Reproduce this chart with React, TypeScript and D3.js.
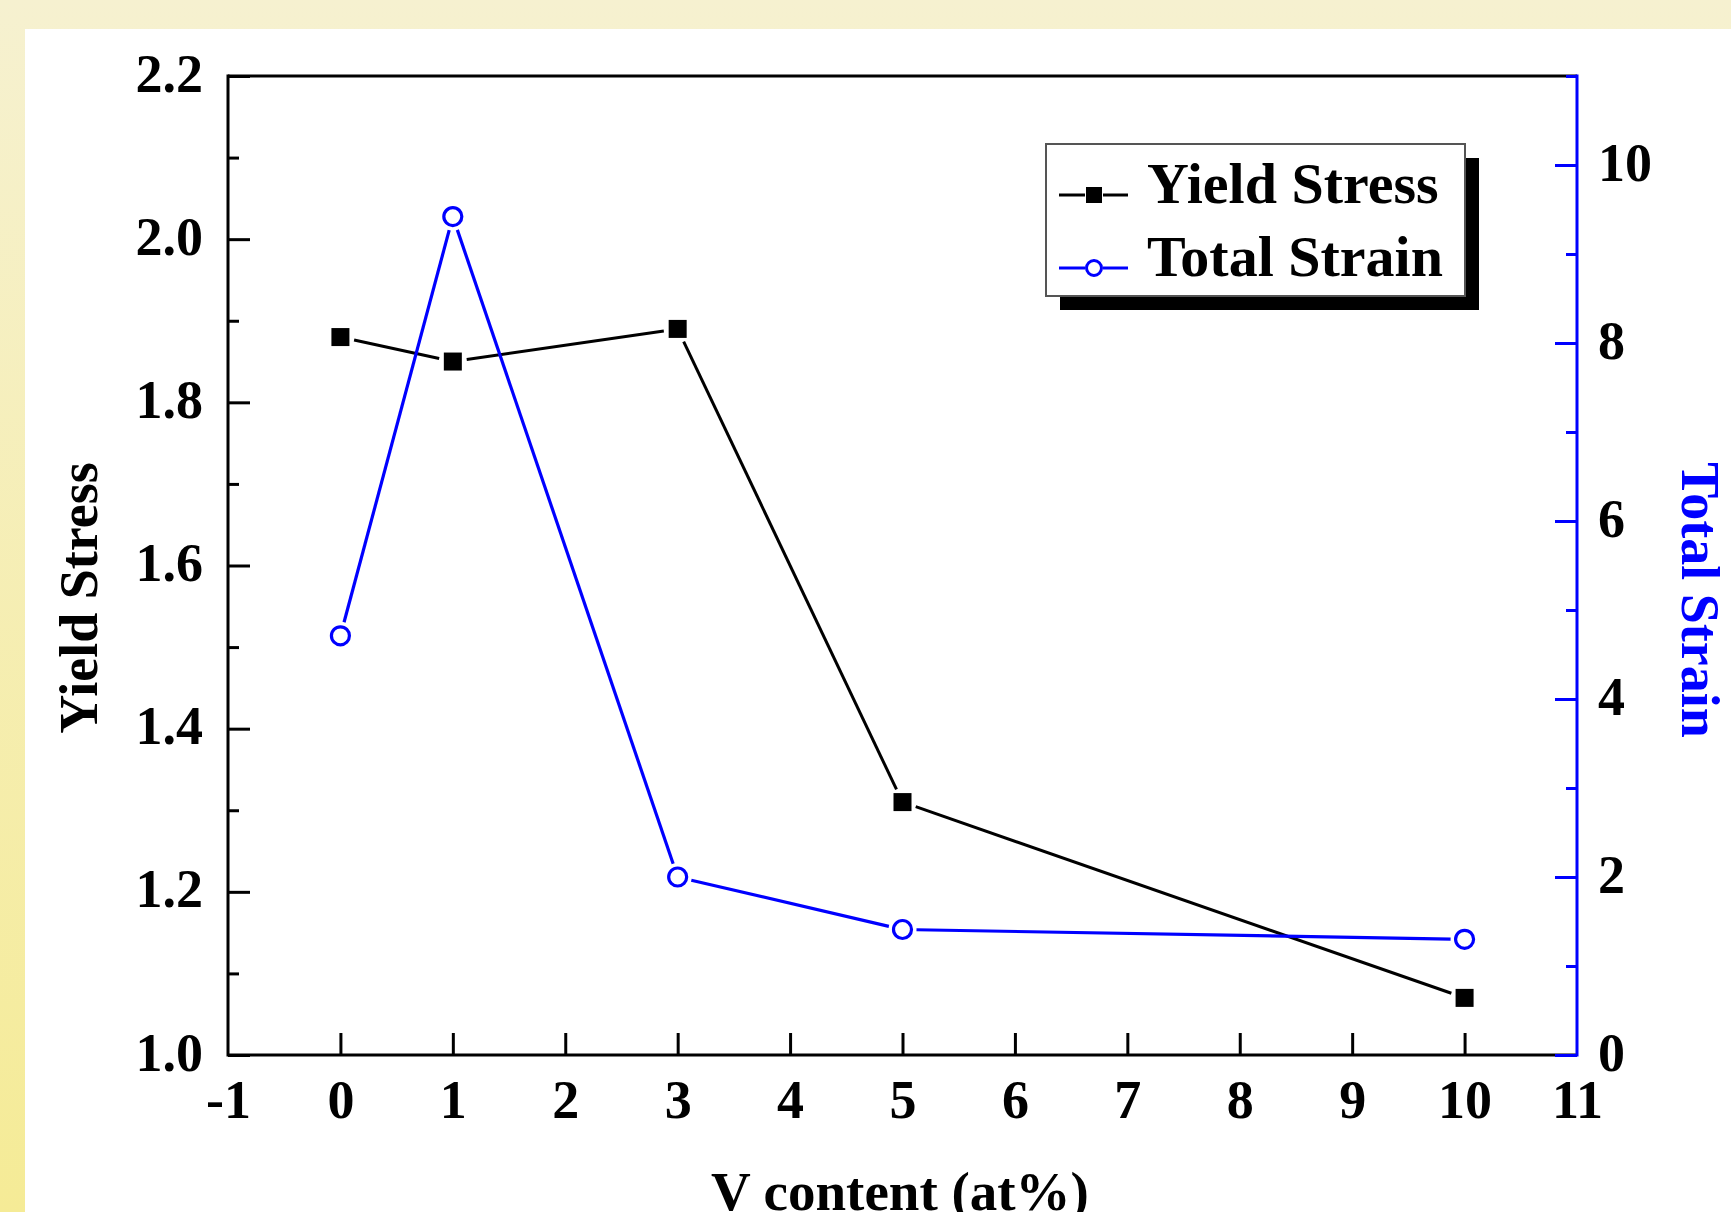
import React, { useRef, useEffect } from "react";
import * as d3 from "d3";

// chart data
const vContent = [0, 1, 3, 5, 10];
const yieldStress = [1.88, 1.85, 1.89, 1.31, 1.07];
const totalStrain = [4.71, 9.42, 2.0, 1.41, 1.3];

const xTicks = [-1, 0, 1, 2, 3, 4, 5, 6, 7, 8, 9, 10, 11];
const yTicks = [1.0, 1.2, 1.4, 1.6, 1.8, 2.0, 2.2];
const yMinorTicks = [1.1, 1.3, 1.5, 1.7, 1.9, 2.1];
const y2Ticks = [0, 2, 4, 6, 8, 10];
const y2MinorTicks = [1, 3, 5, 7, 9, 11];

const FONT = "'Liberation Serif', 'Times New Roman', serif";
const BLUE = "#0000ff";

const App = () => {
  const svgRef = useRef(null);

  useEffect(() => {
    const W = 1731;
    const H = 1212;
    const left = 228, right = 1577, top = 76, bottom = 1055;

    const root = d3.select(svgRef.current);
    root.selectAll("*").remove();
    const svg = root.attr("width", W).attr("height", H);

    // background panel
    const defs = svg.append("defs");
    const grad = defs
      .append("linearGradient")
      .attr("id", "bg")
      .attr("x1", 0).attr("y1", 0).attr("x2", 0).attr("y2", 1);
    grad.append("stop").attr("offset", "0%").attr("stop-color", "#f6f1d0");
    grad.append("stop").attr("offset", "100%").attr("stop-color", "#f5eb96");
    svg.append("rect").attr("width", W).attr("height", H).attr("fill", "url(#bg)");
    svg.append("rect").attr("x", 25).attr("y", 29).attr("width", W - 25).attr("height", H - 29).attr("fill", "#fff");

    const x = d3.scaleLinear().domain([-1, 11]).range([left, right]);
    const y = d3.scaleLinear().domain([1.0, 2.2]).range([bottom, top]);
    const y2 = d3.scaleLinear().domain([0, 11]).range([bottom, top]);

    const styleAxis = (g, color) => {
      g.select(".domain").remove();
      g.selectAll("line").attr("stroke", color).attr("stroke-width", 3);
      g.selectAll("text")
        .attr("fill", "#000")
        .style("font-family", FONT)
        .style("font-weight", "bold")
        .style("font-size", "54px");
    };

    // left axis
    svg.append("g")
      .attr("transform", `translate(${left},0)`)
      .call(d3.axisLeft(y).tickValues(yTicks).tickSize(-22).tickPadding(25).tickFormat((d) => d.toFixed(1)))
      .call((g) => styleAxis(g, "#000"))
      .call((g) => g.selectAll("text").attr("dy", "0.28em"));
    svg.append("g")
      .attr("transform", `translate(${left},0)`)
      .call(d3.axisLeft(y).tickValues(yMinorTicks).tickSize(-11).tickFormat(() => ""))
      .call((g) => styleAxis(g, "#000"));

    // bottom axis (plain hyphen for -1)
    svg.append("g")
      .attr("transform", `translate(0,${bottom})`)
      .call(d3.axisBottom(x).tickValues(xTicks).tickSize(-22).tickPadding(25).tickFormat((d) => String(d)))
      .call((g) => styleAxis(g, "#000"))
      .call((g) =>
        g.selectAll(".tick").filter((d) => d === -1 || d === 11).select("line").remove()
      );

    // frame lines
    svg.append("line").attr("x1", left).attr("x2", left).attr("y1", top - 1.5).attr("y2", bottom + 1.5)
      .attr("stroke", "#000").attr("stroke-width", 3);
    svg.append("line").attr("x1", left).attr("x2", right).attr("y1", top).attr("y2", top)
      .attr("stroke", "#000").attr("stroke-width", 3);
    svg.append("line").attr("x1", left).attr("x2", right).attr("y1", bottom).attr("y2", bottom)
      .attr("stroke", "#000").attr("stroke-width", 3);

    // right axis (blue)
    svg.append("g")
      .attr("transform", `translate(${right},0)`)
      .call(d3.axisRight(y2).tickValues(y2Ticks).tickSize(-22).tickPadding(21).tickFormat((d) => String(d)))
      .call((g) => styleAxis(g, BLUE))
      .call((g) => g.selectAll("text").attr("dy", "0.28em"));
    svg.append("g")
      .attr("transform", `translate(${right},0)`)
      .call(d3.axisRight(y2).tickValues(y2MinorTicks).tickSize(-11).tickFormat(() => ""))
      .call((g) => styleAxis(g, BLUE));
    svg.append("line").attr("x1", right).attr("x2", right).attr("y1", top - 1.5).attr("y2", bottom + 1.5)
      .attr("stroke", BLUE).attr("stroke-width", 3);

    // axis titles
    svg.append("text")
      .attr("transform", "translate(97,598) rotate(-90)")
      .attr("text-anchor", "middle")
      .style("font-family", FONT).style("font-weight", "bold").style("font-size", "54px")
      .attr("fill", "#000")
      .text("Yield Stress");
    svg.append("text")
      .attr("transform", "translate(1682,600) rotate(90)")
      .attr("text-anchor", "middle")
      .style("font-family", FONT).style("font-weight", "bold").style("font-size", "54px")
      .attr("fill", BLUE)
      .text("Total Strain");
    svg.append("text")
      .attr("x", 900).attr("y", 1210)
      .attr("text-anchor", "middle")
      .style("font-family", FONT).style("font-weight", "bold").style("font-size", "55px")
      .attr("fill", "#000")
      .text("V content (at%)");

    // series lines, broken near markers
    const gappedSegments = (pts, gap) => {
      const segs = [];
      for (let i = 0; i < pts.length - 1; i++) {
        const [x0, y0] = pts[i];
        const [x1, y1] = pts[i + 1];
        const len = Math.hypot(x1 - x0, y1 - y0);
        if (len <= gap * 2) continue;
        const ux = (x1 - x0) / len, uy = (y1 - y0) / len;
        segs.push([x0 + ux * gap, y0 + uy * gap, x1 - ux * gap, y1 - uy * gap]);
      }
      return segs;
    };

    const ysPts = vContent.map((v, i) => [x(v), y(yieldStress[i])]);
    const tsPts = vContent.map((v, i) => [x(v), y2(totalStrain[i])]);

    svg.append("g")
      .selectAll("line")
      .data(gappedSegments(ysPts, 14))
      .enter()
      .append("line")
      .attr("x1", (d) => d[0]).attr("y1", (d) => d[1])
      .attr("x2", (d) => d[2]).attr("y2", (d) => d[3])
      .attr("stroke", "#000").attr("stroke-width", 3);

    svg.append("g")
      .selectAll("line")
      .data(gappedSegments(tsPts, 14))
      .enter()
      .append("line")
      .attr("x1", (d) => d[0]).attr("y1", (d) => d[1])
      .attr("x2", (d) => d[2]).attr("y2", (d) => d[3])
      .attr("stroke", BLUE).attr("stroke-width", 3.2);

    // markers
    svg.append("g")
      .selectAll("rect")
      .data(ysPts)
      .enter()
      .append("rect")
      .attr("x", (d) => d[0] - 9).attr("y", (d) => d[1] - 9)
      .attr("width", 18).attr("height", 18)
      .attr("fill", "#000");

    svg.append("g")
      .selectAll("circle")
      .data(tsPts)
      .enter()
      .append("circle")
      .attr("cx", (d) => d[0]).attr("cy", (d) => d[1])
      .attr("r", 9)
      .attr("fill", "#fff")
      .attr("stroke", BLUE).attr("stroke-width", 3.2);

    // legend
    const lg = svg.append("g");
    lg.append("rect").attr("x", 1060).attr("y", 158).attr("width", 419).attr("height", 152).attr("fill", "#000");
    lg.append("rect").attr("x", 1046).attr("y", 144).attr("width", 419).attr("height", 152)
      .attr("fill", "#fff").attr("stroke", "#555").attr("stroke-width", 2);

    const items = [
      { name: "Yield Stress", color: "#000", shape: "square", cy: 195 },
      { name: "Total Strain", color: BLUE, shape: "circle", cy: 268 },
    ];
    const cx = 1094;
    items.forEach((it) => {
      lg.append("line").attr("x1", 1059).attr("x2", cx - 9).attr("y1", it.cy).attr("y2", it.cy)
        .attr("stroke", it.color).attr("stroke-width", 3);
      lg.append("line").attr("x1", cx + 9).attr("x2", 1128).attr("y1", it.cy).attr("y2", it.cy)
        .attr("stroke", it.color).attr("stroke-width", 3);
      if (it.shape === "square") {
        lg.append("rect").attr("x", cx - 8).attr("y", it.cy - 8).attr("width", 16).attr("height", 16).attr("fill", it.color);
      } else {
        lg.append("circle").attr("cx", cx).attr("cy", it.cy).attr("r", 7.5)
          .attr("fill", "#fff").attr("stroke", it.color).attr("stroke-width", 3);
      }
      lg.append("text")
        .attr("x", 1147).attr("y", it.cy + 8)
        .style("font-family", FONT).style("font-weight", "bold").style("font-size", "58px")
        .attr("fill", "#000")
        .text(it.name);
    });
  }, []);

  return (
    <div style={{ position: "fixed", left: 0, top: 0, width: 1731, height: 1212, overflow: "hidden" }}>
      <svg ref={svgRef} style={{ display: "block" }}></svg>
    </div>
  );
};

export default App;
